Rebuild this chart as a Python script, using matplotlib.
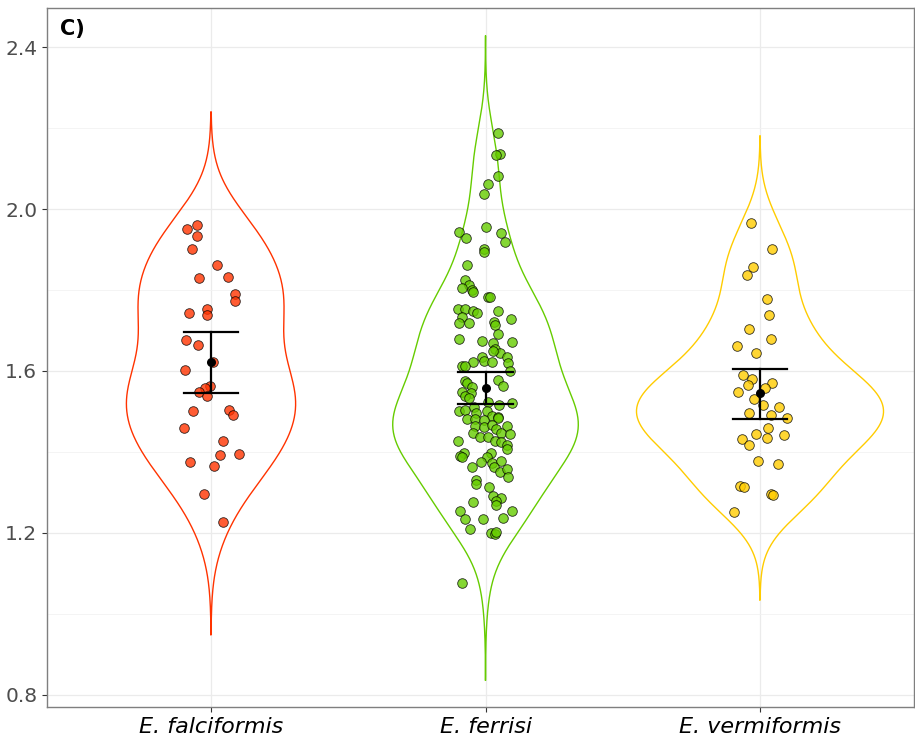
import numpy as np
import matplotlib
matplotlib.use("Agg")
import matplotlib.pyplot as plt
from matplotlib.ticker import MultipleLocator

# groups
species = ["E. falciformis", "E. ferrisi", "E. vermiformis"]
colors = ["#FF3300", "#66CC00", "#FFCC00"]

# values (y) and horizontal jitter of each point (x offset)
falc_y = [1.951, 1.961, 1.933, 1.900, 1.861, 1.830, 1.831, 1.791, 1.774, 1.754,
          1.743, 1.737, 1.677, 1.663, 1.623, 1.602, 1.564, 1.559, 1.547, 1.538,
          1.502, 1.504, 1.491, 1.459, 1.426, 1.392, 1.395, 1.375, 1.366, 1.296,
          1.228]
falc_dx = [-0.086, -0.050, -0.050, -0.070, 0.022, -0.044, 0.061, 0.087, 0.087, -0.013,
           -0.080, -0.016, -0.092, -0.048, 0.008, -0.094, -0.004, -0.021, -0.044, -0.016,
           -0.066, 0.064, 0.081, -0.098, 0.043, 0.033, 0.101, -0.075, 0.011, -0.026,
           0.044]

ferr_y = [2.188, 2.136, 2.133, 2.082, 2.062, 2.037, 1.956, 1.942, 1.928, 1.941,
          1.919, 1.901, 1.895, 1.862, 1.825, 1.812, 1.804, 1.800, 1.796, 1.782,
          1.782, 1.752, 1.753, 1.749, 1.743, 1.749, 1.734, 1.728, 1.719, 1.718,
          1.722, 1.714, 1.692, 1.679, 1.675, 1.669, 1.672, 1.654, 1.645, 1.650,
          1.634, 1.623, 1.625, 1.621, 1.612, 1.612, 1.634, 1.619, 1.601, 1.578,
          1.564, 1.576, 1.571, 1.560, 1.549, 1.546, 1.538, 1.533, 1.522, 1.524,
          1.516, 1.501, 1.504, 1.510, 1.497, 1.500, 1.489, 1.487, 1.481, 1.481,
          1.479, 1.483, 1.463, 1.461, 1.467, 1.456, 1.463, 1.446, 1.436, 1.438,
          1.448, 1.444, 1.428, 1.425, 1.418, 1.407, 1.426, 1.398, 1.390, 1.387,
          1.397, 1.388, 1.376, 1.372, 1.378, 1.364, 1.364, 1.351, 1.357, 1.339,
          1.331, 1.321, 1.313, 1.291, 1.286, 1.280, 1.269, 1.277, 1.253, 1.253,
          1.234, 1.234, 1.238, 1.209, 1.201, 1.198, 1.203, 1.077]
ferr_dx = [0.044, 0.052, 0.038, 0.046, 0.008, -0.004, 0.000, -0.095, -0.072, 0.056,
           0.070, -0.007, -0.005, -0.069, -0.075, -0.061, -0.087, -0.051, -0.045, 0.009,
           0.018, -0.102, -0.075, -0.047, -0.031, 0.044, -0.085, 0.092, -0.098, -0.061,
           0.031, 0.036, 0.045, -0.098, -0.012, 0.026, 0.095, 0.034, 0.053, 0.027,
           -0.012, -0.045, -0.005, 0.022, -0.085, -0.075, 0.077, 0.082, 0.089, 0.046,
           0.064, -0.075, -0.066, -0.051, -0.085, -0.054, -0.075, -0.060, 0.095, 0.009,
           0.050, -0.097, -0.075, -0.042, -0.033, 0.007, 0.022, 0.046, -0.066, -0.039,
           -0.005, 0.046, -0.039, -0.005, 0.022, 0.040, 0.077, -0.045, -0.021, 0.009,
           0.058, 0.089, 0.034, 0.058, 0.080, 0.077, -0.100, -0.078, -0.094, -0.087,
           0.019, 0.004, -0.015, 0.024, 0.056, -0.051, 0.031, 0.052, 0.080, 0.082,
           -0.036, -0.033, 0.013, 0.028, 0.056, 0.040, 0.040, -0.046, -0.094, 0.095,
           -0.075, -0.009, 0.064, -0.057, 0.019, 0.034, 0.040, -0.087]

verm_y = [1.965, 1.900, 1.856, 1.838, 1.778, 1.739, 1.703, 1.678, 1.661, 1.644,
          1.589, 1.580, 1.565, 1.571, 1.557, 1.548, 1.530, 1.517, 1.511, 1.497,
          1.492, 1.483, 1.458, 1.445, 1.433, 1.435, 1.441, 1.417, 1.378, 1.370,
          1.317, 1.313, 1.296, 1.293, 1.251]
verm_dx = [-0.033, 0.044, -0.027, -0.047, 0.024, 0.033, -0.041, 0.041, -0.085, -0.016,
           -0.063, -0.030, -0.045, 0.045, 0.019, -0.079, -0.021, 0.010, 0.070, -0.041,
           0.039, 0.099, 0.030, -0.013, -0.067, 0.026, 0.086, -0.039, -0.008, 0.066,
           -0.073, -0.057, 0.041, 0.048, -0.096]

# mean and 95% CI as drawn
means = [1.622, 1.559, 1.545]
ci_low = [1.546, 1.519, 1.481]
ci_high = [1.696, 1.597, 1.606]

groups_y = [falc_y, ferr_y, verm_y]
groups_dx = [falc_dx, ferr_dx, verm_dx]


def kde(vals):
    v = np.asarray(vals)
    n = len(v)
    iqr = np.subtract(*np.percentile(v, [75, 25]))
    bw = 0.9 * min(v.std(ddof=1), iqr / 1.34) * n ** -0.2
    grid = np.linspace(v.min() - 3 * bw, v.max() + 3 * bw, 512)
    dens = np.exp(-0.5 * ((grid[:, None] - v[None, :]) / bw) ** 2).sum(axis=1)
    dens /= n * bw * np.sqrt(2 * np.pi)
    return grid, dens


fig = plt.figure(figsize=(9.15, 7.45), dpi=100)
ax = fig.add_axes([0.0514, 0.051, 0.9475, 0.938])

dens_all = [kde(g) for g in groups_y]
dmax = max(d.max() for _, d in dens_all)
for i, (grid, d) in enumerate(dens_all):
    w = d / dmax * 0.45
    xs = np.concatenate([i + 1 - w, (i + 1 + w)[::-1], [i + 1 - w[0]]])
    ys = np.concatenate([grid, grid[::-1], [grid[0]]])
    ax.plot(xs, ys, color=colors[i], lw=1.0, zorder=2)

for i in range(3):
    ax.scatter(np.array(groups_dx[i]) + i + 1, groups_y[i], s=48,
               facecolor=colors[i], edgecolor="black", linewidth=0.6,
               alpha=0.8, zorder=3)

for i in range(3):
    x = i + 1
    ax.plot([x, x], [ci_low[i], ci_high[i]], color="black", lw=1.6, zorder=4)
    for yv in (ci_low[i], ci_high[i]):
        ax.plot([x - 0.1, x + 0.1], [yv, yv], color="black", lw=1.6, zorder=4)
    ax.scatter([x], [means[i]], s=30, color="black", zorder=5)

ax.set_xlim(0.4026, 3.561)
ax.set_ylim(0.770, 2.496)
ax.set_xticks([1, 2, 3])
ax.set_xticklabels(species, fontsize=16, fontstyle="italic", color="black")
ax.yaxis.set_major_locator(MultipleLocator(0.4))
ax.yaxis.set_minor_locator(MultipleLocator(0.2))
ax.set_yticks([0.8, 1.2, 1.6, 2.0, 2.4])
ax.set_yticklabels(["0.8", "1.2", "1.6", "2.0", "2.4"], fontsize=14.5, color="#4D4D4D")

ax.grid(which="major", color="#EBEBEB", lw=0.9, zorder=0)
ax.grid(which="minor", axis="y", color="#F2F2F2", lw=0.6, zorder=0)
ax.set_axisbelow(True)
ax.tick_params(which="major", length=3.5, color="#333333", width=0.8)
ax.tick_params(which="minor", length=0)
for s in ax.spines.values():
    s.set_color("#7F7F7F")
    s.set_linewidth(1.0)

ax.text(0.015, 0.985, "C)", transform=ax.transAxes, fontsize=15,
        fontweight="bold", va="top", ha="left")

fig.savefig("out.png", dpi=100)
